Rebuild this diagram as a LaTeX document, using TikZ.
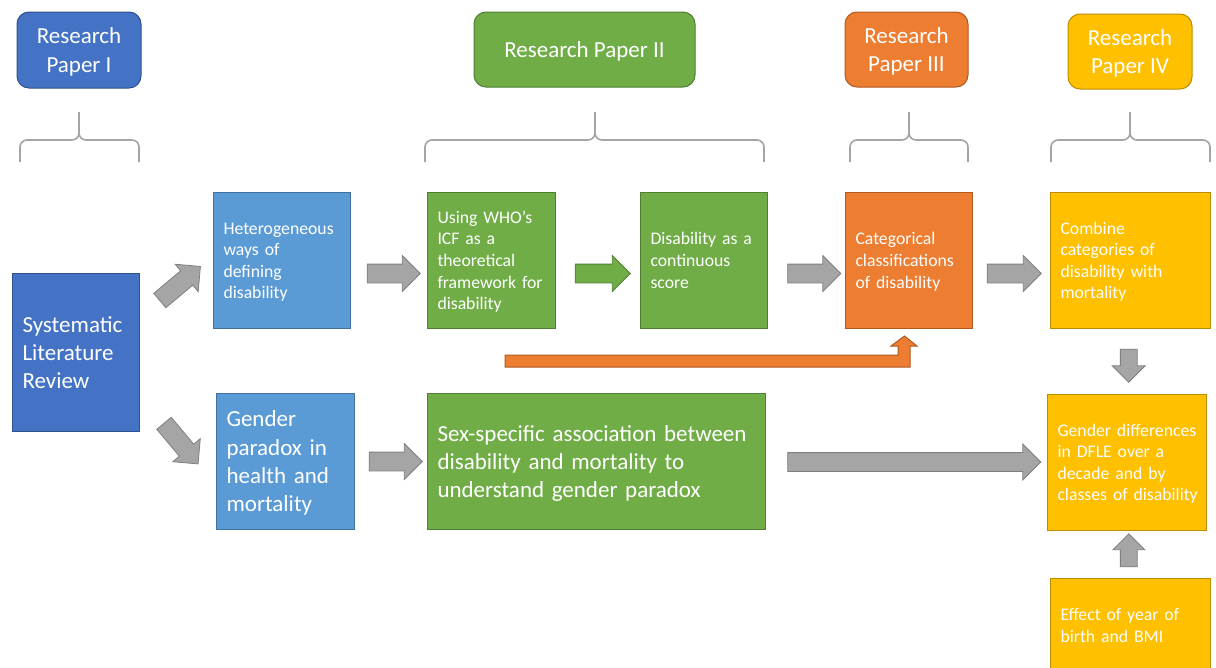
\documentclass[tikz,border=0pt]{standalone}
\usepackage{fontspec}
\setmainfont{Carlito}
\usetikzlibrary{shapes.arrows,calc}
\definecolor{pblue}{HTML}{4472C4}
\definecolor{pblueline}{HTML}{2F528F}
\definecolor{plight}{HTML}{5B9BD5}
\definecolor{plightline}{HTML}{41719C}
\definecolor{pgreen}{HTML}{70AD47}
\definecolor{pgreenline}{HTML}{507E32}
\definecolor{porange}{HTML}{ED7D31}
\definecolor{porangeline}{HTML}{AE5A21}
\definecolor{pgold}{HTML}{FFC000}
\definecolor{pgoldline}{HTML}{BC8C00}
\definecolor{arrowc}{HTML}{A5A5A5}
\definecolor{arrowline}{HTML}{7F7F7F}
\definecolor{bracec}{HTML}{A5A5A5}
\newcommand{\ppstrut}{\rule[-0.269em]{0pt}{1.221em}}

\begin{document}
\begin{tikzpicture}[x=1pt, y=-1pt,
  box/.style={rectangle, draw=#1line, fill=#1, line width=1pt, text=white,
    align=left, anchor=north west, inner xsep=10pt, inner ysep=0pt,
    execute at begin node=\ppstrut, execute at end node=\ppstrut},
  paper/.style={rectangle, rounded corners=12pt, draw=#1line, fill=#1,
    line width=1pt, text=white, align=center, font=\fontsize{23}{28.3}\selectfont},
  smalltext/.style={font=\fontsize{17.7}{21.6}\selectfont},
  bigtext/.style={font=\fontsize{23}{28.3}\selectfont},
  fatarrow/.style={single arrow, draw=arrowline, fill=arrowc, line width=0.8pt,
    inner xsep=0pt, inner ysep=9pt, minimum width=35pt,
    single arrow head extend=8.5pt, single arrow tip angle=90, minimum height=#1}]
  \useasboundingbox[fill=white] (0,0) rectangle (1216,667);
  \clip (0,0) rectangle (1216,667);
  % papers on top
  \node[paper=pblue, minimum width=124, minimum height=76] (hI) at (79,50) {\ppstrut Research\\Paper I\ppstrut};
  \node[paper=pgreen, minimum width=221, minimum height=75] (hII) at (584.5,49.5) {\ppstrut Research Paper II};
  \node[paper=porange, minimum width=123, minimum height=75] (hIII) at (906.5,49.5) {\ppstrut Research\\Paper III\ppstrut};
  \node[paper=pgold, minimum width=124, minimum height=75] (hIV) at (1130,51.5) {\ppstrut Research\\Paper IV\ppstrut};
  % braces under the papers
  \foreach \l/\m/\r in {20/79/139, 425/595/764, 850/909/968, 1051/1130/1210} {
    \draw[bracec, line width=1.6pt, rounded corners=7pt] (\l,162) |- (\m,140) -- (\m,112);
    \draw[bracec, line width=1.6pt, rounded corners=7pt] (\r,162) |- (\m,140) -- (\m,112);
  }
  % boxes
  \node[box=pblue, bigtext, text width=107, minimum height=158] (srev) at (12,273) {Systematic\\Literature\\Review};
  \node[box=plight, smalltext, text width=117, minimum height=136] (het) at (213,192) {Heterogeneous\\ways of\\defining\\disability};
  \node[box=pgreen, smalltext, text width=108, minimum height=136] (who) at (427,192) {Using WHO’s\\ICF as a\\theoretical\\framework for\\disability};
  \node[box=pgreen, smalltext, text width=107, minimum height=136] (cont) at (640,192) {Disability as a\\continuous\\score};
  \node[box=porange, smalltext, text width=107, minimum height=136] (cat) at (845,192) {Categorical\\classifications\\of disability};
  \node[box=pgold, smalltext, text width=140, minimum height=136] (comb) at (1050,192) {Combine\\categories of\\disability with\\mortality};
  \node[box=plight, bigtext, text width=118, minimum height=136] (gpar) at (216,393) {Gender\\paradox in\\health and\\mortality};
  \node[box=pgreen, bigtext, text width=318, minimum height=136] (sex) at (427,393) {Sex-specific association between\\disability and mortality to\\understand gender paradox};
  \node[box=pgold, smalltext, text width=139, minimum height=136] (gdiff) at (1047,394) {Gender differences\\in DFLE over a\\decade and by\\\mbox{classes of disability}};
  \node[box=pgold, smalltext, text width=140, minimum height=94] (eff) at (1050,578) {Effect of year of\\birth and BMI};
  % block arrows
  \node[fatarrow=53, rotate=40] (a1) at ($(srev.east)!0.5!(het.west)+(0,-20)$) {};
  \node[fatarrow=53, rotate=-50] (a2) at ($(srev.east)!0.5!(gpar.west)+(0,33)$) {};
  \node[fatarrow=53] (a3) at ($(het.east)!0.5!(who.west)+(0,13)$) {};
  \node[fatarrow=55, draw=pgreenline, fill=pgreen] (a4) at ($(who.east)!0.5!(cont.west)+(0,13)$) {};
  \node[fatarrow=53] (a5) at ($(cont.east)!0.5!(cat.west)+(3,13)$) {};
  \node[fatarrow=54] (a6) at ($(cat.east)!0.5!(comb.west)+(-2,13)$) {};
  \node[fatarrow=53] (a7) at ($(gpar.east)!0.5!(sex.west)$) {};
  \node[fatarrow=253] (a8) at ($(sex.east)!0.5!(gdiff.west)+(3,0)$) {};
  \node[fatarrow=33, rotate=-90, inner ysep=8pt, minimum width=32pt, single arrow head extend=8pt] (a9) at ($(comb.south)!0.5!(gdiff.north)$) {};
  \node[fatarrow=33, rotate=90, inner ysep=8pt, minimum width=31pt, single arrow head extend=7.5pt] (a10) at ($(eff.north)!0.5!(gdiff.south)$) {};
  % orange bent arrow
  \draw[porangeline, fill=porange, line width=1pt] (505,355) -- (898,355) -- (898,346) -- (891,346)
    -- ($(cat.south)+(-4.5,7)$) -- (917,346) -- (910,346) -- (910,367) -- (505,367) -- cycle;
\end{tikzpicture}
\end{document}
